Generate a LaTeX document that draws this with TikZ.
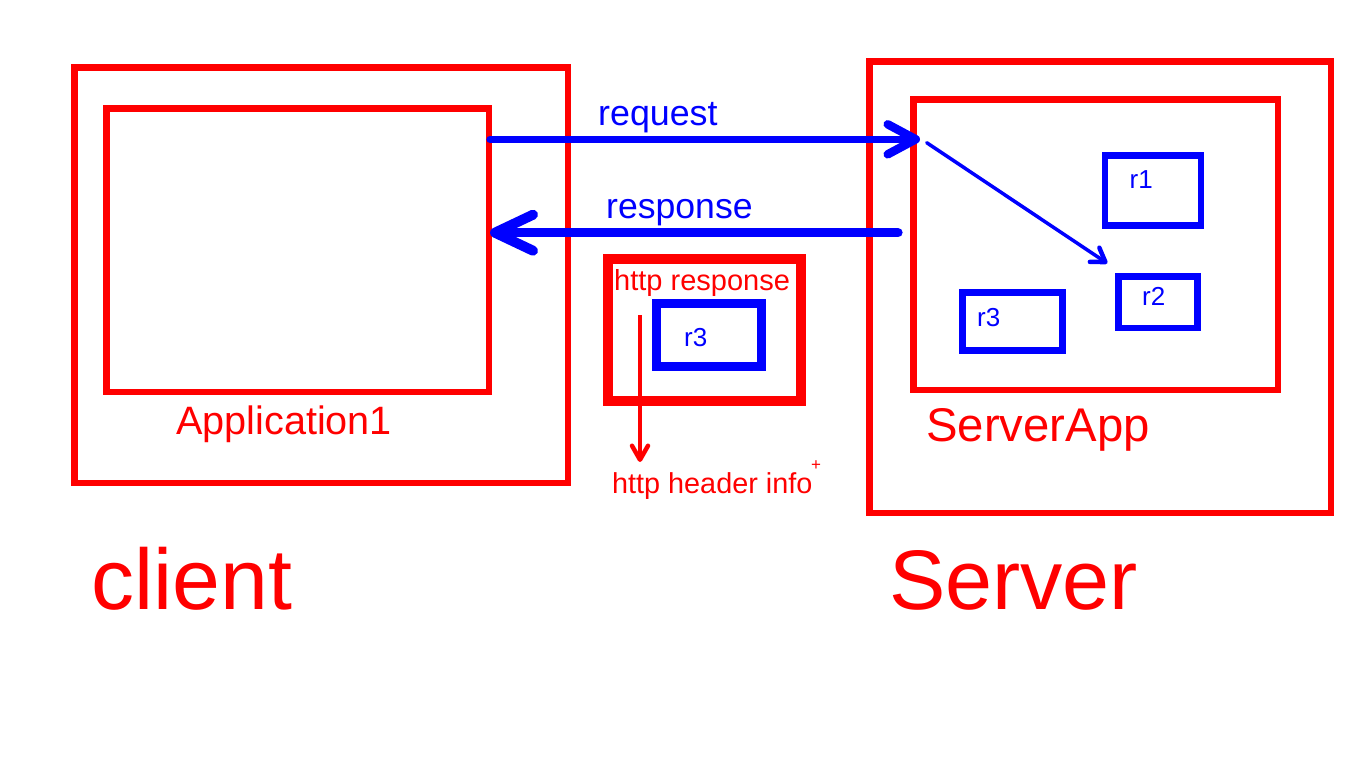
\documentclass[tikz,border=0pt]{standalone}
\usepackage{fontspec}
\setmainfont{Liberation Sans}
\usetikzlibrary{arrows.meta}
\definecolor{pred}{RGB}{255,0,0}
\definecolor{pblue}{RGB}{0,0,255}
\begin{document}
\begin{tikzpicture}[x=1pt,y=-1pt,
  redbox/.style={draw=pred, line width=6.7pt, inner sep=0pt},
  bluebox/.style={draw=pblue, line width=6.7pt, inner sep=0pt},
  lbl/.style={anchor=base west, inner sep=0pt},
  fs/.style={font=\fontsize{#1}{#1}\selectfont}
]
\useasboundingbox[fill=white] (0,0) rectangle (1366,768);

% client side
\node[redbox, minimum width=493.7pt, minimum height=415.7pt] (client) at (321.2,275.2) {};
\node[redbox, minimum width=382.3pt, minimum height=283.7pt] (app1) at (297.9,250.2) {};
\node[lbl, fs=39.6, text=pred] (app1lbl) at (176,434.3) {Application1};
\node[lbl, fs=86, text=pred] (clientlbl) at (91,609.3) {client};

% server side
\node[redbox, minimum width=461.7pt, minimum height=451.3pt] (server) at (1100.2,287.4) {};
\node[redbox, minimum width=364.7pt, minimum height=290.7pt] (serverapp) at (1095.7,244.7) {};
\node[lbl, fs=47.3, text=pred] (serverapplbl) at (926,441.7) {ServerApp};
\node[lbl, fs=84.5, text=pred] (serverlbl) at (889,609) {Server};

\node[bluebox, minimum width=96pt, minimum height=70pt] (r1) at (1153,190.7) {};
\node[lbl, fs=26, text=pblue] (r1lbl) at (1129.5,188.3) {r1};
\node[bluebox, minimum width=78.6pt, minimum height=51.1pt] (r2) at (1158,302.3) {};
\node[lbl, fs=26, text=pblue] (r2lbl) at (1142,305.7) {r2};
\node[bluebox, minimum width=99.6pt, minimum height=57.8pt] (r3s) at (1012.5,321.4) {};
\node[lbl, fs=26, text=pblue] (r3slbl) at (977,326.7) {r3};

% http response
\node[draw=pred, line width=10pt, inner sep=0pt, minimum width=193pt, minimum height=142pt] (httpbox) at (704.5,330) {};
\node[draw=pblue, line width=9pt, inner sep=0pt, minimum width=104.5pt, minimum height=63.5pt] (r3h) at (708.8,334.8) {};
\node[lbl, fs=26, text=pblue] (r3hlbl) at (684,346.7) {r3};
\node[lbl, fs=29, text=pred] (httplbl) at (614,290) {http response};
\node[lbl, fs=28.8, text=pred] (hdrlbl) at (612,493.3) {http header info};
\node[fs=17, text=pred, inner sep=0pt] (plus) at (816,466) {+};

% connectors
\coordinate (reqS) at (490,139.3);
\coordinate (reqE) at (920,139.3);
\coordinate (resS) at (898,232.7);
\coordinate (resE) at (490,232.7);
\coordinate (diagS) at (926.7,142.7);
\coordinate (diagE) at (1107.3,263.3);
\coordinate (hdrS) at (640,315);
\coordinate (hdrE) at (640,462);

\node[lbl, fs=35.8, text=pblue] (reqlbl) at (598,125) {request};
\node[lbl, fs=35.6, text=pblue] (reslbl) at (606,218) {response};

\draw[pblue, line width=7.3pt, line cap=round, -{Straight Barb[length=28pt,width=30pt,line width=8.5pt,round]}] (reqS) -- (reqE);
\draw[pblue, line width=9.3pt, line cap=round, -{Straight Barb[length=38pt,width=36pt,line width=10pt,round]}] (resS) -- (resE);
\draw[pblue, line width=3.5pt, line cap=round, -{Straight Barb[length=13pt,width=17pt,line width=4.5pt,round]}] (diagS) -- (diagE);
\draw[pred, line width=3.3pt, -{Straight Barb[length=14pt,width=16pt,line width=4.5pt,round]}] (hdrS) -- (hdrE);
\end{tikzpicture}
\end{document}
